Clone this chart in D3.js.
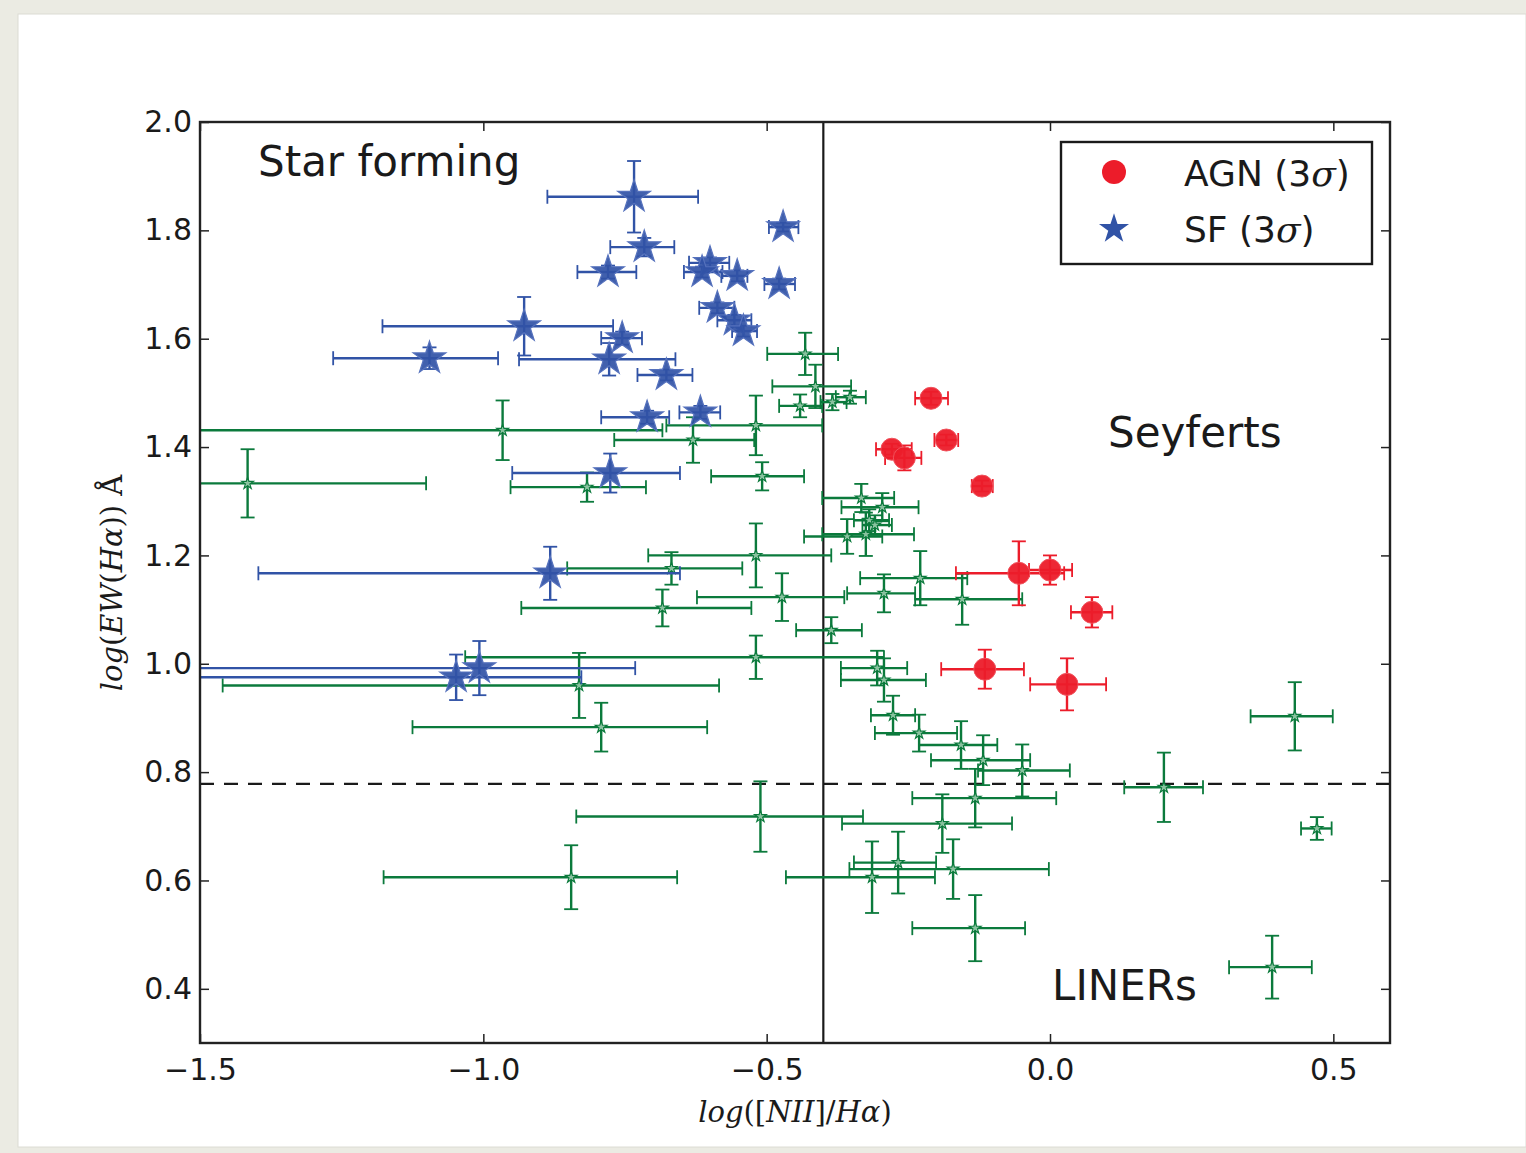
<!DOCTYPE html>
<html>
<head>
<meta charset="utf-8">
<script src="https://cdn.jsdelivr.net/npm/d3@7"></script>
<style>
  html, body { margin: 0; padding: 0; background: #ebebe3; }
  svg { display: block; }
</style>
</head>
<body>
<svg id="chart" width="1526" height="1153"></svg>
<script>
// ---- Star-forming galaxies (3 sigma): log([NII]/Ha), log EW(Ha) and errors ----
const sfX      = [-0.734, -0.716, -0.780, -0.600, -0.614, -0.552, -0.471, -0.478, -0.587, -0.557, -0.541,
                  -0.755, -0.778, -0.677, -0.711, -0.617, -0.776, -0.882, -1.007, -1.048, -1.095, -0.928];
const sfY      = [1.862, 1.769, 1.723, 1.740, 1.723, 1.716, 1.806, 1.701, 1.657, 1.634, 1.614,
                  1.601, 1.562, 1.533, 1.455, 1.464, 1.352, 1.167, 0.992, 0.975, 1.564, 1.623];
const sfXErrLo = [0.153, 0.060, 0.054, 0.037, 0.032, 0.028, 0.025, 0.026, 0.032, 0.030, 0.020,
                  0.037, 0.159, 0.051, 0.081, 0.037, 0.173, 0.515, 0.560, 0.520, 0.170, 0.250];
const sfXErrHi = [0.113, 0.053, 0.050, 0.034, 0.036, 0.018, 0.027, 0.028, 0.030, 0.030, 0.024,
                  0.035, 0.117, 0.046, 0.039, 0.035, 0.123, 0.229, 0.275, 0.221, 0.121, 0.157];
const sfYErr   = [0.066, 0.017, 0.012, 0.010, 0.010, 0.010, 0.008, 0.010, 0.010, 0.010, 0.010,
                  0.012, 0.030, 0.010, 0.012, 0.012, 0.036, 0.049, 0.050, 0.042, 0.020, 0.054];

// ---- AGN (3 sigma) ----
const agnX      = [-0.210, -0.183, -0.279, -0.257, -0.120, -0.055, 0.000, 0.074, -0.115, 0.030];
const agnY      = [1.490, 1.413, 1.396, 1.380, 1.328, 1.167, 1.173, 1.095, 0.990, 0.962];
const agnXErrLo = [0.028, 0.021, 0.028, 0.034, 0.018, 0.111, 0.037, 0.037, 0.077, 0.065];
const agnXErrHi = [0.030, 0.021, 0.035, 0.030, 0.019, 0.080, 0.039, 0.036, 0.069, 0.069];
const agnYErr   = [0.012, 0.010, 0.010, 0.023, 0.010, 0.059, 0.027, 0.028, 0.036, 0.048];

// ---- Remaining galaxies with lower-significance lines ----
const allX      = [-0.432, -0.414, -0.441, -0.384, -0.353, -0.519, -0.630, -0.966, -1.416, -0.817,
                   -0.508, -0.333, -0.296, -0.319, -0.309, -0.358, -0.325, -0.519, -0.668, -0.473,
                   -0.293, -0.229, -0.155, -0.684, -0.386, -0.519, -0.831, -0.792, -0.305, -0.293,
                   -0.277, -0.231, -0.157, -0.118, -0.049, -0.132, -0.190, -0.268, -0.314, -0.171,
                   -0.132, 0.201, 0.432, 0.471, 0.392, -0.511, -0.845];
const allY      = [1.572, 1.512, 1.476, 1.483, 1.492, 1.440, 1.413, 1.431, 1.333, 1.326,
                   1.346, 1.306, 1.289, 1.265, 1.256, 1.235, 1.239, 1.200, 1.176, 1.123,
                   1.130, 1.158, 1.119, 1.103, 1.062, 1.012, 0.960, 0.883, 0.992, 0.970,
                   0.905, 0.872, 0.850, 0.822, 0.803, 0.752, 0.705, 0.633, 0.606, 0.621,
                   0.512, 0.772, 0.903, 0.696, 0.440, 0.718, 0.606];
const allXErrLo = [0.067, 0.076, 0.037, 0.021, 0.025, 0.158, 0.139, 0.600, 0.200, 0.135,
                   0.090, 0.069, 0.072, 0.027, 0.022, 0.076, 0.077, 0.190, 0.184, 0.150,
                   0.065, 0.106, 0.083, 0.249, 0.062, 0.513, 0.629, 0.333, 0.064, 0.076,
                   0.039, 0.078, 0.074, 0.092, 0.078, 0.111, 0.177, 0.078, 0.152, 0.183,
                   0.111, 0.070, 0.078, 0.028, 0.076, 0.325, 0.331];
const allXErrHi = [0.058, 0.063, 0.039, 0.025, 0.028, 0.117, 0.108, 0.282, 0.315, 0.104,
                   0.074, 0.058, 0.064, 0.035, 0.030, 0.062, 0.085, 0.133, 0.125, 0.110,
                   0.055, 0.083, 0.106, 0.157, 0.054, 0.226, 0.247, 0.187, 0.053, 0.074,
                   0.039, 0.067, 0.064, 0.083, 0.084, 0.143, 0.123, 0.067, 0.111, 0.169,
                   0.088, 0.069, 0.067, 0.026, 0.070, 0.181, 0.187];
const allYErr   = [0.039, 0.040, 0.021, 0.015, 0.012, 0.055, 0.042, 0.055, 0.063, 0.027,
                   0.026, 0.026, 0.026, 0.020, 0.018, 0.032, 0.040, 0.059, 0.030, 0.044,
                   0.035, 0.050, 0.047, 0.034, 0.024, 0.040, 0.060, 0.045, 0.032, 0.040,
                   0.036, 0.034, 0.044, 0.046, 0.048, 0.054, 0.054, 0.057, 0.066, 0.055,
                   0.061, 0.064, 0.063, 0.021, 0.058, 0.065, 0.059];

// ---- Axis ticks and dividing lines ----
const xTicks = [-1.5, -1.0, -0.5, 0.0, 0.5];
const yTicks = [0.4, 0.6, 0.8, 1.0, 1.2, 1.4, 1.6, 1.8, 2.0];
const xDivide = -0.4;            // [NII]/Ha split between star forming and AGN
const yDivide = Math.log10(6);   // EW(Ha) = 6 A split between Seyferts and LINERs

const colAll = "#0b7a3c", colSF = "#3153a6", colAGN = "#ec1c2a";

const svg = d3.select("#chart");
const W = 1526, H = 1153;
const plot = {left: 200, right: 1390, top: 122, bottom: 1043};

// page panel
svg.append("rect").attr("x", 0).attr("y", 0).attr("width", W).attr("height", H).attr("fill", "#ebebe3");
svg.append("rect").attr("x", 18).attr("y", 14).attr("width", W - 18).attr("height", 1133)
  .attr("fill", "#ffffff").attr("stroke", "#dcdcd4").attr("stroke-width", 1);

const x = d3.scaleLinear().domain([-1.5, 0.6]).range([plot.left, plot.right]);
const y = d3.scaleLinear().domain([0.3, 2.0]).range([plot.bottom, plot.top]);

svg.append("clipPath").attr("id", "plotClip").append("rect")
  .attr("x", plot.left).attr("y", plot.top)
  .attr("width", plot.right - plot.left).attr("height", plot.bottom - plot.top);

const g = svg.append("g").attr("clip-path", "url(#plotClip)");

// dividing lines
g.append("line").attr("x1", x(xDivide)).attr("x2", x(xDivide)).attr("y1", plot.top).attr("y2", plot.bottom)
  .attr("stroke", "#1a1a1a").attr("stroke-width", 2.2);
g.append("line").attr("x1", plot.left).attr("x2", plot.right).attr("y1", y(yDivide)).attr("y2", y(yDivide))
  .attr("stroke", "#1a1a1a").attr("stroke-width", 2.2).attr("stroke-dasharray", "14,10");

function rows(xs, ys, lo, hi, ye) {
  return xs.map((v, i) => ({x: v, y: ys[i], xlo: v - lo[i], xhi: v + hi[i], ylo: ys[i] - ye[i], yhi: ys[i] + ye[i]}));
}
const allRows = rows(allX, allY, allXErrLo, allXErrHi, allYErr);
const sfRows  = rows(sfX, sfY, sfXErrLo, sfXErrHi, sfYErr);
const agnRows = rows(agnX, agnY, agnXErrLo, agnXErrHi, agnYErr);

function errorBars(data, color, cap) {
  const eg = g.append("g").attr("stroke", color).attr("stroke-width", 2.4).attr("fill", "none");
  data.forEach(d => {
    const cx = x(d.x), cy = y(d.y);
    eg.append("line").attr("x1", x(d.xlo)).attr("x2", x(d.xhi)).attr("y1", cy).attr("y2", cy);
    eg.append("line").attr("x1", cx).attr("x2", cx).attr("y1", y(d.ylo)).attr("y2", y(d.yhi));
    eg.append("line").attr("x1", x(d.xlo)).attr("x2", x(d.xlo)).attr("y1", cy - cap).attr("y2", cy + cap).attr("stroke-width", 1.8);
    eg.append("line").attr("x1", x(d.xhi)).attr("x2", x(d.xhi)).attr("y1", cy - cap).attr("y2", cy + cap).attr("stroke-width", 1.8);
    eg.append("line").attr("x1", cx - cap).attr("x2", cx + cap).attr("y1", y(d.ylo)).attr("y2", y(d.ylo)).attr("stroke-width", 1.8);
    eg.append("line").attr("x1", cx - cap).attr("x2", cx + cap).attr("y1", y(d.yhi)).attr("y2", y(d.yhi)).attr("stroke-width", 1.8);
  });
}

// other galaxies: error bars and small open stars
errorBars(allRows, colAll, 7);
g.append("g").selectAll("path").data(allRows).join("path")
  .attr("d", d3.symbol(d3.symbolStar, 42))
  .attr("transform", d => `translate(${x(d.x)},${y(d.y)})`)
  .attr("fill", "#a9d5b8").attr("fill-opacity", 0.8).attr("stroke", colAll).attr("stroke-width", 1.2);

// star-forming galaxies
errorBars(sfRows, colSF, 7);
g.append("g").selectAll("path").data(sfRows).join("path")
  .attr("d", d3.symbol(d3.symbolStar, 330))
  .attr("transform", d => `translate(${x(d.x)},${y(d.y)})`)
  .attr("fill", colSF).attr("fill-opacity", 0.92).attr("stroke", "#5672bd").attr("stroke-width", 1.2);

// AGN
errorBars(agnRows, colAGN, 7);
g.append("g").selectAll("circle").data(agnRows).join("circle")
  .attr("cx", d => x(d.x)).attr("cy", d => y(d.y)).attr("r", 11)
  .attr("fill", colAGN).attr("fill-opacity", 0.95).attr("stroke", "#f0525c").attr("stroke-width", 1);

// axes: ticks pointing inward on all four sides
const tickFmt = d3.format(".1f");
const axB = svg.append("g").attr("transform", `translate(0,${plot.bottom})`)
  .call(d3.axisBottom(x).tickValues(xTicks).tickFormat(tickFmt).tickSize(-9).tickPadding(16));
const axT = svg.append("g").attr("transform", `translate(0,${plot.top})`)
  .call(d3.axisTop(x).tickValues(xTicks).tickFormat("").tickSize(-9));
const axL = svg.append("g").attr("transform", `translate(${plot.left},0)`)
  .call(d3.axisLeft(y).tickValues(yTicks).tickFormat(tickFmt).tickSize(-9).tickPadding(8));
const axR = svg.append("g").attr("transform", `translate(${plot.right},0)`)
  .call(d3.axisRight(y).tickValues(yTicks).tickFormat("").tickSize(-9));
[axB, axT, axL, axR].forEach(a => {
  a.select(".domain").remove();
  a.selectAll(".tick line").attr("stroke", "#222").attr("stroke-width", 1.5);
  a.selectAll("text").attr("font-family", "DejaVu Sans").attr("font-size", 30).attr("fill", "#1a1a1a");
});
svg.append("rect").attr("x", plot.left).attr("y", plot.top)
  .attr("width", plot.right - plot.left).attr("height", plot.bottom - plot.top)
  .attr("fill", "none").attr("stroke", "#222").attr("stroke-width", 2.4);

// region labels
const region = [["Star forming", 258, 176], ["Seyferts", 1108, 447], ["LINERs", 1052, 1000]];
svg.append("g").selectAll("text").data(region).join("text")
  .attr("x", d => d[1]).attr("y", d => d[2]).text(d => d[0])
  .attr("font-family", "DejaVu Sans").attr("font-size", 42).attr("fill", "#1a1a1a");

// axis titles in math style
function mathLabel(sel, parts) {
  parts.forEach(([t, it]) => sel.append("tspan").text(t).attr("font-style", it ? "italic" : "normal"));
}
const xt = svg.append("text").attr("x", 795).attr("y", 1122).attr("text-anchor", "middle")
  .attr("font-family", "DejaVu Serif").attr("font-size", 29).attr("fill", "#1a1a1a");
mathLabel(xt, [["log", true], ["([", false], ["NII", true], ["]/", false], ["Hα", true], [")", false]]);
const yt = svg.append("text").attr("transform", "translate(122,583) rotate(-90)").attr("text-anchor", "middle")
  .attr("font-family", "DejaVu Serif").attr("font-size", 29).attr("fill", "#1a1a1a");
mathLabel(yt, [["log", true], ["(", false], ["EW", true], ["(", false], ["Hα", true], [")) Å", false]]);

// legend
const lg = svg.append("g");
lg.append("rect").attr("x", 1061).attr("y", 142).attr("width", 311).attr("height", 122)
  .attr("fill", "#fff").attr("stroke", "#1a1a1a").attr("stroke-width", 2.4);
lg.append("circle").attr("cx", 1114).attr("cy", 172).attr("r", 12).attr("fill", colAGN);
lg.append("path").attr("d", d3.symbol(d3.symbolStar, 280)).attr("transform", "translate(1114,229)")
  .attr("fill", colSF);
const legendItems = [["AGN", 186], ["SF", 242]];
legendItems.forEach(([name, yy]) => {
  const t = lg.append("text").attr("x", 1184).attr("y", yy)
    .attr("font-family", "DejaVu Sans").attr("font-size", 36).attr("fill", "#1a1a1a");
  t.append("tspan").text(name + " (3");
  t.append("tspan").text("σ").attr("font-family", "DejaVu Serif").attr("font-style", "italic");
  t.append("tspan").text(")");
});
</script>
</body>
</html>
